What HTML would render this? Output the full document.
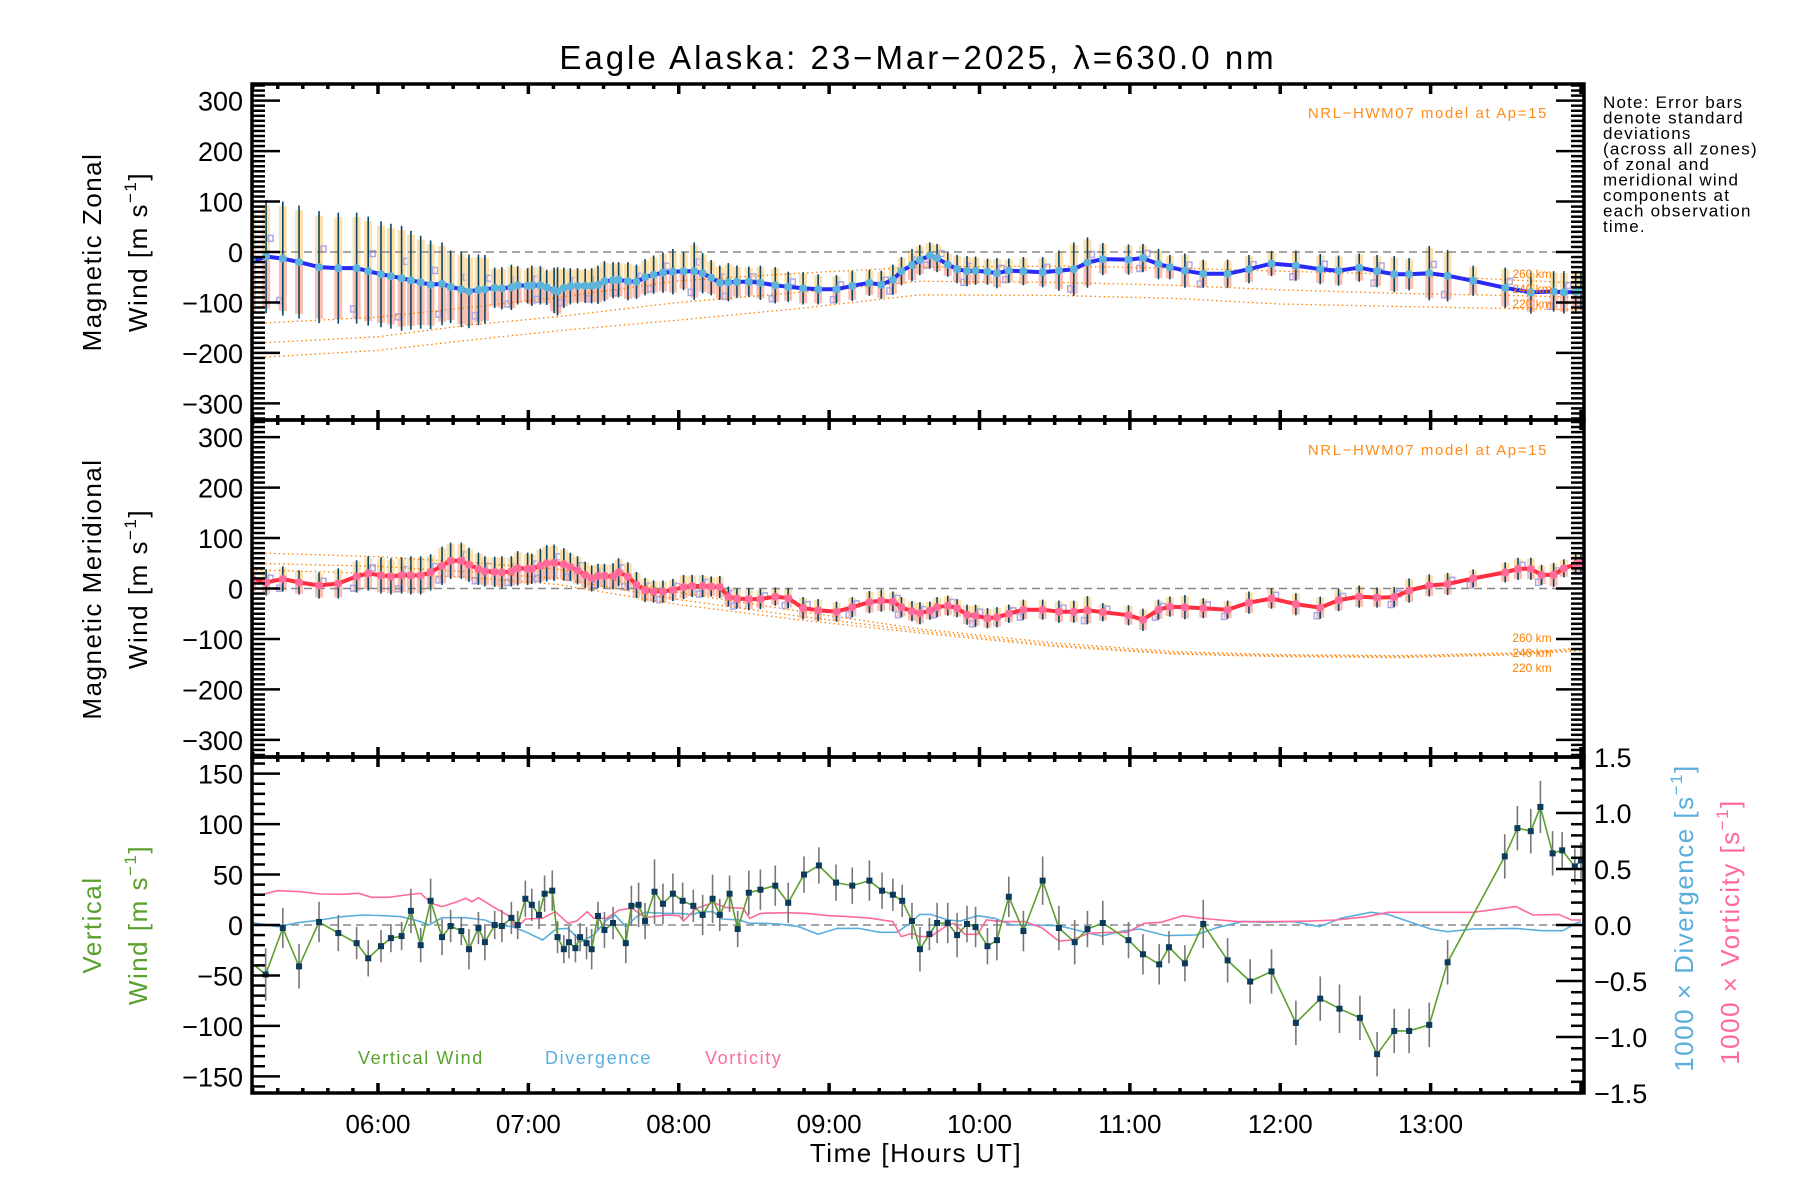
<!DOCTYPE html>
<html><head><meta charset="utf-8"><title>Eagle Alaska winds</title>
<style>
html,body{margin:0;padding:0;background:#fff;}
svg{display:block;font-family:"Liberation Sans",sans-serif;}
</style></head>
<body>
<svg id="fig" width="1800" height="1200" viewBox="0 0 1800 1200" xmlns="http://www.w3.org/2000/svg">
<rect width="1800" height="1200" fill="#fff"/>
<text x="918" y="69" font-size="33" text-anchor="middle" letter-spacing="3">Eagle Alaska: 23−Mar−2025, λ=630.0 nm</text>
<g id="plots"></g>
<g font-size="17" letter-spacing="1.2">
<text x="1603" y="108">Note: Error bars</text>
<text x="1603" y="123.5">denote standard</text>
<text x="1603" y="139">deviations</text>
<text x="1603" y="154.5">(across all zones)</text>
<text x="1603" y="170">of zonal and</text>
<text x="1603" y="185.5">meridional wind</text>
<text x="1603" y="201">components at</text>
<text x="1603" y="216.5">each observation</text>
<text x="1603" y="232">time.</text>
</g>
<text transform="translate(101,252) rotate(-90)" font-size="26" text-anchor="middle" letter-spacing="1.5">Magnetic Zonal</text>
<text transform="translate(147,252) rotate(-90)" font-size="26" text-anchor="middle" letter-spacing="1.5">Wind [m s<tspan font-size="17" dy="-11">−1</tspan><tspan dy="11">]</tspan></text>
<text transform="translate(101,589) rotate(-90)" font-size="26" text-anchor="middle" letter-spacing="1.5">Magnetic Meridional</text>
<text transform="translate(147,589) rotate(-90)" font-size="26" text-anchor="middle" letter-spacing="1.5">Wind [m s<tspan font-size="17" dy="-11">−1</tspan><tspan dy="11">]</tspan></text>
<text transform="translate(101,925) rotate(-90)" font-size="26" text-anchor="middle" fill="#5aa02c" letter-spacing="1.5">Vertical</text>
<text transform="translate(147,925) rotate(-90)" font-size="26" text-anchor="middle" fill="#5aa02c" letter-spacing="1.5">Wind [m s<tspan font-size="17" dy="-11">−1</tspan><tspan dy="11">]</tspan></text>
<text transform="translate(1693,918) rotate(-90)" font-size="26" text-anchor="middle" fill="#5aaedc" letter-spacing="1.5">1000 × Divergence [s<tspan font-size="17" dy="-11">−1</tspan><tspan dy="11">]</tspan></text>
<text transform="translate(1739,932) rotate(-90)" font-size="26" text-anchor="middle" fill="#ff6a9a" letter-spacing="1.5">1000 × Vorticity [s<tspan font-size="17" dy="-11">−1</tspan><tspan dy="11">]</tspan></text>
<text x="916" y="1162" font-size="26" text-anchor="middle" letter-spacing="1.5">Time [Hours UT]</text>
<text x="358" y="1064" font-size="18" fill="#5aa02c" letter-spacing="1.6">Vertical Wind</text>
<text x="545" y="1064" font-size="18" fill="#5aaedc" letter-spacing="1.6">Divergence</text>
<text x="705" y="1064" font-size="18" fill="#ff6a9a" letter-spacing="1.6">Vorticity</text>
<text x="1548" y="118" font-size="15" text-anchor="end" fill="#ff8c1a" letter-spacing="1.6">NRL−HWM07 model at Ap=15</text>
<text x="1548" y="455" font-size="15" text-anchor="end" fill="#ff8c1a" letter-spacing="1.6">NRL−HWM07 model at Ap=15</text>
</svg>
<script>
// ---------- data ----------
const xTickLabels = ["06:00","07:00","08:00","09:00","10:00","11:00","12:00","13:00"];
const xTickHours = [6,7,8,9,10,11,12,13];
const windTicks = [300,200,100,0,-100,-200,-300];
const vertTicks = [150,100,50,0,-50,-100,-150];
const rightTicks = [1.5,1.0,0.5,0.0,-0.5,-1.0,-1.5];
const rightTickLabels = ["1.5","1.0","0.5","0.0","−0.5","−1.0","−1.5"];
const altLabels = ["260 km","240 km","220 km"];

const zonalTime = [5.162,5.256,5.367,5.475,5.608,5.736,5.858,5.935,6.020,6.086,6.157,6.219,6.284,6.350,6.426,6.483,6.554,6.605,6.668,6.711,6.776,6.824,6.887,6.929,6.995,7.023,7.080,7.122,7.171,7.194,7.236,7.279,7.327,7.378,7.421,7.463,7.506,7.563,7.600,7.662,7.719,7.776,7.833,7.895,7.961,8.032,8.103,8.159,8.216,8.273,8.330,8.387,8.466,8.543,8.642,8.728,8.827,8.927,9.049,9.154,9.268,9.347,9.424,9.481,9.551,9.603,9.670,9.718,9.789,9.851,9.917,9.974,10.053,10.116,10.195,10.292,10.420,10.528,10.627,10.718,10.820,10.991,11.087,11.190,11.266,11.366,11.488,11.650,11.792,11.942,12.104,12.266,12.388,12.525,12.644,12.758,12.857,12.991,13.113,13.283,13.496,13.667,13.818,13.886,13.965,14.0];
const zonalWind = [-19,-9,-13,-20,-30,-32,-32,-38,-44,-48,-52,-56,-60,-65,-63,-69,-74,-78,-75,-74,-71,-72,-70,-66,-67,-67,-66,-70,-76,-78,-71,-68,-67,-67,-67,-65,-58,-56,-55,-58,-59,-50,-45,-41,-39,-38,-38,-42,-51,-61,-60,-59,-59,-61,-66,-69,-72,-74,-74,-67,-61,-65,-55,-38,-26,-16,-7,-12,-25,-34,-38,-37,-39,-42,-37,-38,-40,-37,-34,-21,-14,-15,-12,-24,-30,-37,-43,-43,-34,-23,-27,-34,-37,-31,-38,-44,-44,-42,-47,-57,-71,-80,-78,-80,-79,-76];
const zonalErr = [110,112,113,112,111,110,110,108,105,104,104,98,92,88,82,72,75,73,70,68,40,42,45,38,35,40,38,35,45,48,40,36,35,34,35,38,40,36,35,38,34,36,38,40,45,38,57,40,35,34,38,32,30,34,36,30,32,30,28,30,26,28,30,28,32,30,26,28,24,28,30,28,26,30,24,28,30,40,53,50,32,30,28,30,24,34,28,28,28,25,30,30,30,28,32,36,32,54,51,30,40,42,40,42,40,38];

const meridTime = [5.162,5.256,5.367,5.475,5.608,5.736,5.858,5.935,6.020,6.086,6.157,6.219,6.284,6.350,6.426,6.483,6.554,6.605,6.668,6.711,6.776,6.824,6.887,6.929,6.995,7.023,7.080,7.122,7.171,7.236,7.279,7.327,7.378,7.421,7.463,7.506,7.563,7.600,7.662,7.719,7.776,7.833,7.895,7.961,8.032,8.089,8.159,8.216,8.273,8.330,8.387,8.466,8.543,8.642,8.728,8.827,8.927,9.049,9.154,9.268,9.347,9.424,9.481,9.551,9.604,9.670,9.718,9.789,9.851,9.917,9.974,10.053,10.116,10.195,10.292,10.420,10.528,10.627,10.718,10.820,10.991,11.087,11.190,11.266,11.366,11.488,11.650,11.792,11.942,12.104,12.266,12.388,12.525,12.644,12.758,12.857,12.991,13.113,13.283,13.496,13.581,13.667,13.738,13.818,13.886,13.965,14.0];
const meridWind = [20,12,19,12,6,10,24,30,26,24,26,26,26,32,45,55,55,47,39,34,33,32,34,40,39,39,45,50,51,48,43,36,27,20,25,25,24,32,24,7,-3,-6,-6,-3,3,5,5,4,3,-16,-20,-21,-21,-16,-19,-39,-43,-46,-37,-27,-24,-26,-37,-45,-49,-44,-37,-34,-39,-52,-54,-59,-57,-50,-42,-42,-46,-46,-43,-47,-53,-62,-42,-36,-37,-39,-42,-28,-20,-31,-38,-23,-16,-18,-17,-4,6,9,20,32,39,39,27,27,40,48,50];
const meridErr = [28,26,25,24,26,30,32,34,36,36,36,38,38,36,38,36,36,34,32,30,30,32,30,34,32,30,34,36,36,32,28,28,26,26,24,24,26,28,28,26,24,22,22,22,24,22,22,20,22,20,20,22,20,18,20,22,22,20,20,22,22,20,20,20,22,18,20,20,18,20,22,20,20,18,20,20,22,22,28,18,20,22,20,20,24,20,18,22,20,22,22,22,22,20,20,24,22,22,18,20,22,22,20,24,18,20,22];

const vertTime = [5.253,5.367,5.475,5.608,5.736,5.858,5.935,6.020,6.086,6.157,6.219,6.284,6.350,6.426,6.483,6.554,6.605,6.668,6.711,6.776,6.824,6.887,6.929,6.980,7.023,7.071,7.108,7.159,7.194,7.236,7.270,7.313,7.344,7.387,7.421,7.463,7.506,7.563,7.648,7.685,7.733,7.776,7.839,7.895,7.961,8.026,8.097,8.159,8.225,8.273,8.338,8.392,8.466,8.543,8.642,8.728,8.833,8.932,9.046,9.154,9.268,9.352,9.424,9.486,9.551,9.604,9.667,9.718,9.789,9.851,9.917,9.974,10.053,10.116,10.195,10.292,10.420,10.528,10.633,10.718,10.820,10.991,11.087,11.195,11.260,11.366,11.488,11.650,11.800,11.942,12.104,12.266,12.394,12.530,12.644,12.758,12.857,12.991,13.113,13.493,13.577,13.666,13.730,13.811,13.875,13.959,14.0];
const vertWind = [-49,-3,-41,3,-8,-18,-33,-21,-13,-11,14,-20,24,-12,-1,-6,-24,-3,-17,0,-1,7,0,26,20,10,31,34,-12,-24,-17,-23,-12,-18,-24,9,-5,2,-18,19,20,4,33,21,31,24,19,10,26,10,31,-4,32,35,39,22,50,59,42,39,44,34,30,24,4,-24,-9,2,2,-10,1,-2,-21,-15,28,-6,44,-3,-17,-4,2,-15,-29,-39,-22,-38,1,-35,-56,-46,-97,-73,-83,-92,-128,-105,-105,-99,-37,68,96,93,117,71,74,58,64];
const vertErr = [26,20,22,20,18,16,18,16,14,14,22,17,22,18,16,14,20,16,18,14,16,16,14,18,16,14,18,20,16,14,16,14,14,16,20,14,18,16,20,20,22,18,32,20,20,18,16,20,24,16,18,18,22,20,20,20,18,18,18,18,20,18,16,16,18,22,16,20,20,22,18,20,18,20,20,20,24,22,22,18,22,18,20,20,16,18,24,22,22,22,22,22,24,22,22,22,22,22,22,22,22,22,26,22,18,18,18];

const divTime = [5.162,5.333,5.475,5.617,5.759,5.901,6.043,6.156,6.270,6.341,6.426,6.583,6.710,6.796,6.895,6.980,7.094,7.185,7.264,7.350,7.435,7.520,7.577,7.648,7.719,7.776,7.918,8.003,8.088,8.159,8.230,8.287,8.401,8.472,8.571,8.685,8.799,8.926,9.054,9.196,9.338,9.452,9.537,9.603,9.675,9.789,9.874,9.988,10.101,10.215,10.329,10.528,10.670,10.812,10.954,11.067,11.238,11.437,11.579,11.749,11.920,12.090,12.261,12.403,12.601,12.715,12.857,12.999,13.113,13.283,13.567,13.738,13.880,13.965,14.0];
const divergence = [0.021,-0.015,0.021,0.045,0.074,0.089,0.083,0.074,0.036,0,0.065,0.065,0.045,0,-0.015,-0.06,-0.134,-0.036,-0.03,-0.149,-0.089,0.045,0.089,-0.015,0.074,0.113,0.104,0.104,0.095,0.119,0.119,0.054,0.045,0.015,0.015,0.006,-0.015,-0.083,-0.03,-0.03,-0.065,-0.065,0.015,0.095,0.095,0.045,0.036,0.083,0.06,0,0,-0.006,-0.054,-0.098,-0.054,-0.036,-0.095,-0.089,-0.024,0.03,0.024,0.03,-0.015,0.06,0.113,0.095,0.03,-0.036,-0.06,-0.036,-0.03,-0.051,-0.051,0.015,0.03];

const vortTime = [5.162,5.219,5.333,5.475,5.617,5.759,5.872,5.957,6.071,6.185,6.284,6.355,6.426,6.526,6.583,6.625,6.668,6.753,6.867,6.923,6.980,7.094,7.179,7.264,7.321,7.392,7.435,7.520,7.605,7.690,7.776,7.833,7.918,8.003,8.032,8.117,8.230,8.315,8.429,8.472,8.543,8.713,8.855,8.997,9.139,9.281,9.423,9.480,9.551,9.600,9.675,9.789,9.832,9.903,9.988,10.045,10.158,10.300,10.414,10.528,10.613,10.727,10.869,10.982,11.096,11.209,11.351,11.522,11.721,12.005,12.204,12.374,12.573,12.715,12.999,13.283,13.567,13.681,13.851,13.937,14.0];
const vorticity = [0.283,0.268,0.307,0.298,0.277,0.274,0.283,0.247,0.247,0.268,0.283,0.193,0.164,0.208,0.238,0.208,0.244,0.173,0.083,-0.03,0.054,0.06,0.119,0.015,0.036,0.119,0.06,0.06,0.134,0.149,0.066,0.074,0.089,0.083,0.036,0.149,0.2,0.155,0.149,0.06,0.104,0.110,0.104,0.083,0.074,0.06,0.03,-0.104,-0.074,-0.104,-0.104,0,0.015,-0.083,-0.083,0.045,0.03,0.03,-0.024,-0.143,-0.134,-0.074,-0.065,-0.065,0.015,0.024,0.083,0.054,0.03,0.03,0.036,0.045,0.074,0.113,0.113,0.113,0.164,0.089,0.095,0.045,0.045];

const modelTime = [5.16,6.0,6.6,7.2,8.0,8.8,9.6,10.5,11.3,12.0,12.8,13.5,14.02];
const zonalModel260 = [-142,-129,-110,-90,-57,-42,-30,-28,-32,-38,-44,-55,-62];
const zonalModel240 = [-181,-168,-145,-128,-100,-80,-58,-60,-66,-75,-82,-86,-90];
const zonalModel220 = [-210,-195,-175,-156,-135,-112,-85,-86,-92,-103,-108,-112,-115];
const meridModel260 = [71,63,52,38,-8,-45,-80,-108,-125,-131,-133,-128,-118];
const meridModel240 = [50,44,33,20,-22,-55,-84,-112,-128,-133,-135,-130,-120];
const meridModel220 = [37,30,22,8,-32,-62,-88,-115,-130,-135,-137,-132,-123];

// ---------- scales ----------
const X0 = 252, X1 = 1584, T0 = 5.1622, T1 = 14.02;
const xS = t => X0 + (t - T0) * (X1 - X0) / (T1 - T0);
const P = [{top:84,bot:420},{top:420,bot:757},{top:757,bot:1093}];
const ctr = p => (p.top + p.bot) / 2;
const yZ = v => ctr(P[0]) - v * 0.5045;
const yM = v => ctr(P[1]) - v * 0.5045;
const yV = v => ctr(P[2]) - v * 1.009;
const yR = v => ctr(P[2]) - v * 112;

const NS = "http://www.w3.org/2000/svg";
const root = document.getElementById("plots");
function mk(tag, attrs, parent) {
  const e = document.createElementNS(NS, tag);
  for (const k in attrs) e.setAttribute(k, attrs[k]);
  (parent || root).appendChild(e);
  return e;
}
function grp(name) {
  const g = mk("g", {});
  
  
  return g;
}
function clip(id, p) {
  const c = mk("clipPath", {id: id});
  mk("rect", {x: X0, y: p.top, width: X1 - X0, height: p.bot - p.top}, c);
}
clip("c0", P[0]); clip("c1", P[1]); clip("c2", P[2]);
function pts(ts, vs, ys) {
  const n = Math.min(ts.length, vs.length);
  let s = "";
  for (let i = 0; i < n; i++) s += xS(ts[i]).toFixed(1) + "," + ys(vs[i]).toFixed(1) + " ";
  return s;
}

// ---------- wind panels ----------
function windPanel(pi, ys, ts, vs, es, models, lineCol, ptCol, nm, lblY) {
  const g = grp(nm + "-panel");
  g.setAttribute("clip-path", "url(#c" + pi + ")");
  const cg = mk("g", {}, g);
  
  
  const n = Math.min(ts.length, vs.length, es.length);
  for (let i = 0; i < n; i++) {
    const x = xS(ts[i]), e = es[i] * 0.92;
    mk("rect", {x: x - 4, y: ys(vs[i] + e), width: 8, height: ys(vs[i]) - ys(vs[i] + e), fill: "#fcdca0", opacity: 0.85}, cg);
    mk("rect", {x: x - 4, y: ys(vs[i]), width: 8, height: ys(vs[i] - e) - ys(vs[i]), fill: "#f8b4a2", opacity: 0.85}, cg);
    if (i % 3 === 1) mk("rect", {x: x + 2, y: ys(vs[i] + e * 0.35) - 3, width: 5, height: 6, fill: "none", stroke: "#b0a8e4", "stroke-width": 1.5}, cg);
    if (i % 4 === 2) mk("rect", {x: x - 6, y: ys(vs[i] - e * 0.8) - 3, width: 5, height: 6, fill: "none", stroke: "#b0a8e4", "stroke-width": 1.5}, cg);
  }
  const z = mk("line", {x1: X0, x2: X1, y1: ys(0), y2: ys(0), stroke: "#888", "stroke-width": 1.5, "stroke-dasharray": "8,5"}, g);
  
  
  models.forEach((m, k) => {
    const l = mk("polyline", {points: pts(modelTime, m, ys), fill: "none", stroke: "#ff8000", "stroke-width": 1.3, "stroke-dasharray": "1.5,3"}, g);
    
    
  });
  const eg = mk("g", {}, g);
  
  
  for (let i = 0; i < n; i++) {
    const x = xS(ts[i]);
    mk("line", {x1: x, x2: x, y1: ys(vs[i] + es[i]), y2: ys(vs[i] - es[i]), stroke: "#0b4566", "stroke-width": 1.6}, eg);
  }
  const ln = mk("polyline", {points: pts(ts, vs, ys), fill: "none", stroke: lineCol, "stroke-width": 4, "stroke-linejoin": "round"}, g);
  
  
  const pg = mk("g", {}, g);
  
  
  for (let i = 0; i < Math.min(ts.length, vs.length); i++) {
    mk("circle", {cx: xS(ts[i]), cy: ys(vs[i]), r: 4, fill: ptCol}, pg);
  }
  const ag = grp(nm + "-altitude-labels");
  [260, 240, 220].forEach((a, k) => {
    const t = mk("text", {x: 1532, y: lblY + k * 15, "font-size": 12, "text-anchor": "middle", fill: "#ff8000"}, ag);
    t.textContent = altLabels[k];
  });
}
windPanel(0, yZ, zonalTime, zonalWind, zonalErr, [zonalModel260, zonalModel240, zonalModel220], "#2a2af5", "#5ab4dc", "zonal", 278);
windPanel(1, yM, meridTime, meridWind, meridErr, [meridModel260, meridModel240, meridModel220], "#ff2f3f", "#ff6a9a", "meridional", 642);

// ---------- vertical panel ----------
(function () {
  const g = grp("vertical-panel");
  g.setAttribute("clip-path", "url(#c2)");
  const z = mk("line", {x1: X0, x2: X1, y1: yV(0), y2: yV(0), stroke: "#888", "stroke-width": 1.5, "stroke-dasharray": "8,5"}, g);
  
  
  const dv = mk("polyline", {points: pts(divTime, divergence, yR), fill: "none", stroke: "#5aaedc", "stroke-width": 1.6}, g);
  
  
  const vo = mk("polyline", {points: pts(vortTime, vorticity, yR), fill: "none", stroke: "#ff6a9a", "stroke-width": 1.6}, g);
  
  
  const eg = mk("g", {}, g);
  
  
  const n = Math.min(vertTime.length, vertWind.length, vertErr.length);
  for (let i = 0; i < n; i++) {
    const x = xS(vertTime[i]);
    mk("line", {x1: x, x2: x, y1: yV(vertWind[i] + vertErr[i]), y2: yV(vertWind[i] - vertErr[i]), stroke: "#777", "stroke-width": 1.6}, eg);
  }
  const startPts = xS(T0) + "," + yV(-38) + " ";
  const ln = mk("polyline", {points: startPts + pts(vertTime, vertWind, yV), fill: "none", stroke: "#5aa02c", "stroke-width": 1.6}, g);
  
  
  const pg = mk("g", {}, g);
  
  
  for (let i = 0; i < Math.min(vertTime.length, vertWind.length); i++) {
    mk("rect", {x: xS(vertTime[i]) - 3, y: yV(vertWind[i]) - 3, width: 6, height: 6, fill: "#0b3a5c"}, pg);
  }
})();

// ---------- axes ----------
const ag = grp("axes");
function line(x1, y1, x2, y2, w, parent) {
  return mk("line", {x1: x1, y1: y1, x2: x2, y2: y2, stroke: "#000", "stroke-width": w}, parent || ag);
}
function yTicks(p, ys, vmin, vmax, minorStep, majorStep, side) {
  const span = Math.round((vmax - vmin) / minorStep);
  for (let k = 0; k <= span; k++) {
    const v = vmin + k * minorStep;
    const y = ys(v);
    if (y < p.top + 1 || y > p.bot - 1) continue;
    const major = Math.abs(v / majorStep - Math.round(v / majorStep)) < 1e-6;
    const L = major ? 28 : 13;
    if (side !== "right-only") line(X0, y, X0 + L, y, 2.5);
    if (side !== "left-only") line(X1, y, X1 - L, y, 2.5);
  }
}
P.forEach((p, i) => {
  const box = mk("rect", {x: X0, y: p.top, width: X1 - X0, height: p.bot - p.top, fill: "none", stroke: "#000", "stroke-width": 3.5}, ag);
  
  
  for (let m = Math.ceil(T0 * 6); m <= Math.floor(T1 * 6); m++) {
    const x = xS(m / 6);
    const L = (m % 6 === 0) ? 10 : 5;
    line(x, p.top, x, p.top + L, 3.5);
    line(x, p.bot, x, p.bot - L, 3.5);
  }
});
yTicks(P[0], yZ, -340, 340, 10, 100, "both");
yTicks(P[1], yM, -340, 340, 10, 100, "both");
yTicks(P[2], yV, -170, 170, 10, 50, "left-only");
yTicks(P[2], yR, -1.6, 1.6, 0.1, 0.5, "right-only");

const tl = grp("tick-labels");
windTicks.forEach(v => {
  [yZ, yM].forEach((ys, k) => {
    const t = mk("text", {x: 243, y: ys(v) + 10, "font-size": 27, "text-anchor": "end"}, tl);
    t.textContent = v < 0 ? "−" + (-v) : String(v);
    
    
  });
});
vertTicks.forEach(v => {
  const t = mk("text", {x: 243, y: yV(v) + 10, "font-size": 27, "text-anchor": "end"}, tl);
  t.textContent = v < 0 ? "−" + (-v) : String(v);
  
  
});
rightTicks.forEach((v, k) => {
  const t = mk("text", {x: 1594, y: yR(v) + 10, "font-size": 27, "text-anchor": "start"}, tl);
  t.textContent = rightTickLabels[k];
  
  
});
xTickHours.forEach((h, k) => {
  const t = mk("text", {x: xS(h), y: 1133, "font-size": 26, "text-anchor": "middle"}, tl);
  t.textContent = xTickLabels[k];
  
  
});
</script>
</body></html>
